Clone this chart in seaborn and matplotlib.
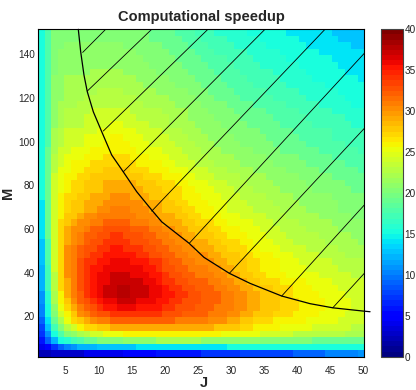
import matplotlib
matplotlib.use("Agg")
import matplotlib.pyplot as plt
import pandas as pd
import seaborn as sns

# ---- data ----
J_VALUES = list(range(1, 51))
M_VALUES = list(range(3, 151, 3))

# speedup per cell, one string per M (first string is M=3, last is M=150), J = 1..50
SPEEDUP_ROWS = [
    "2 2 3 3 3 3 3 4 4 4  4 4 4 5 5 5 5 5 6 6  6 6 6 6 6 7 7 7 7 7  7 8 8 8 8 8 8 8 8 9  9 9 9 9 10 10 10 10 10 11",
    "4 5 7 9 10 11 12 12 12 13  13 13 13 13 13 14 14 14 14 14  14 14 14 14 14 14 14 14 14 15  15 15 15 15 15 15 15 15 15 15  15 15 15 15 15 15 15 15 15 15",
    "6 9 12 15 16 17 18 19 19 20  20 20 20 21 21 21 21 21 22 22  22 22 22 22 22 21 21 21 21 21  21 21 21 21 20 20 20 20 20 20  20 20 19 19 19 19 19 19 19 19",
    "7 11 15 18 20 21 22 23 24 24  25 25 25 26 26 26 26 26 26 26  26 26 26 26 26 26 26 26 25 25  25 25 25 25 24 24 24 24 24 23  23 23 23 23 23 23 23 22 22 22",
    "8 13 17 20 23 24 26 27 27 28  28 29 29 29 29 29 29 29 29 29  29 29 29 29 29 29 29 28 28 28  28 27 27 26 26 26 26 25 25 25  25 25 24 24 24 24 24 24 23 23",
    "9 14 19 22 25 27 28 29 30 31  31 32 32 32 32 32 32 32 32 32  32 31 31 31 31 31 30 30 30 29  29 28 28 27 27 27 26 26 26 26  26 25 25 25 25 25 24 24 24 24",
    "10 15 20 24 26 28 30 31 32 33  33 34 34 34 34 34 34 34 34 33  33 33 32 32 32 32 31 31 31 30  30 29 29 28 28 28 27 27 27 26  26 26 26 25 25 25 25 24 24 24",
    "10 15 21 25 27 29 31 32 33 34  35 35 36 36 36 35 35 35 35 34  34 33 33 33 32 32 32 31 31 31  30 30 29 29 28 28 28 27 27 27  26 26 26 26 25 25 25 25 24 24",
    "11 16 22 26 28 30 32 33 34 35  36 36 37 37 37 36 36 36 35 35  34 34 33 33 33 32 32 32 31 31  30 30 29 29 28 28 28 27 27 27  26 26 26 26 25 25 25 25 24 24",
    "11 16 22 26 29 31 32 34 35 36  37 37 38 38 37 37 37 36 36 35  35 34 34 33 33 32 32 32 31 31  30 30 29 29 28 28 28 27 27 26  26 26 26 25 25 25 25 24 24 24",
    "12 17 23 27 29 31 33 34 35 36  37 37 38 38 37 37 37 36 36 35  34 34 33 33 32 32 32 31 31 30  30 29 29 28 28 28 27 27 27 26  26 26 25 25 25 25 24 24 24 24",
    "12 17 23 27 29 31 33 34 35 36  36 37 37 37 37 37 36 36 35 34  34 33 33 32 32 32 31 31 30 30  29 29 28 28 27 27 27 26 26 26  26 25 25 25 25 24 24 24 24 24",
    "12 17 23 27 30 31 33 34 35 36  36 37 37 37 36 36 36 35 35 34  33 33 32 32 31 31 31 30 30 29  29 28 28 27 27 26 26 26 25 25  25 25 25 24 24 24 24 24 23 23",
    "12 17 24 27 30 31 33 34 35 35  36 36 36 36 36 36 35 35 34 33  33 32 32 31 31 31 30 30 29 29  28 28 27 27 26 26 26 25 25 25  25 24 24 24 24 24 23 23 23 23",
    "13 18 24 27 30 31 33 34 34 35  35 36 36 36 35 35 35 34 34 33  32 32 31 31 30 30 30 29 29 28  28 28 27 27 26 26 26 25 25 25  24 24 24 24 24 23 23 23 23 23",
    "13 18 24 27 30 31 32 33 34 34  35 35 35 35 35 34 34 33 33 32  32 31 31 30 30 30 29 29 28 28  28 27 27 26 26 26 25 25 25 24  24 24 24 23 23 23 23 22 22 22",
    "13 18 24 27 30 31 32 33 33 34  34 35 35 34 34 34 33 33 32 32  31 31 30 30 29 29 29 28 28 27  27 27 26 26 25 25 25 24 24 24  24 23 23 23 23 23 22 22 22 22",
    "13 18 24 27 29 30 31 32 33 33  34 34 34 34 33 33 33 32 32 31  31 30 30 29 29 29 28 28 27 27  27 26 26 25 25 25 24 24 24 23  23 23 23 23 22 22 22 22 22 21",
    "14 19 24 27 29 30 31 32 32 33  33 34 34 33 33 33 32 32 31 31  30 30 29 29 28 28 28 27 27 26  26 26 25 25 25 24 24 24 23 23  23 23 23 22 22 22 22 22 21 21",
    "14 19 24 27 29 30 30 31 32 32  33 33 33 33 32 32 32 31 31 30  30 29 29 28 28 28 27 27 26 26  26 25 25 25 24 24 24 23 23 23  23 22 22 22 22 22 21 21 21 21",
    "14 19 24 27 28 29 30 30 31 31  32 32 32 32 31 31 31 30 30 29  29 29 28 28 27 27 27 26 26 25  25 25 25 24 24 24 23 23 23 23  22 22 22 22 22 21 21 21 21 21",
    "14 19 24 26 28 28 29 30 30 31  31 31 31 31 31 30 30 30 29 29  29 28 28 27 27 26 26 26 25 25  25 24 24 24 24 23 23 23 22 22  22 22 22 21 21 21 21 21 20 20",
    "14 19 24 26 27 28 28 29 29 30  30 31 31 31 30 30 30 29 29 28  28 28 27 27 26 26 26 25 25 24  24 24 24 23 23 23 23 22 22 22  22 21 21 21 21 21 20 20 20 20",
    "14 19 24 26 27 28 28 29 29 29  30 30 30 30 30 30 29 29 29 28  28 27 27 26 26 26 25 25 25 24  24 24 23 23 23 23 22 22 22 22  21 21 21 21 21 21 20 20 20 20",
    "15 19 24 26 27 27 28 28 29 29  29 30 30 30 29 29 29 28 28 28  27 27 26 26 26 25 25 25 24 24  24 23 23 23 23 22 22 22 22 21  21 21 21 21 21 20 20 20 20 20",
    "15 19 24 25 26 27 27 28 28 28  29 29 29 29 29 29 28 28 28 27  27 27 26 26 25 25 25 24 24 24  23 23 23 22 22 22 22 21 21 21  21 21 20 20 20 20 20 20 19 19",
    "15 19 24 25 26 27 27 28 28 28  29 29 29 29 29 28 28 28 27 27  27 26 26 25 25 25 24 24 24 23  23 23 22 22 22 22 21 21 21 21  21 20 20 20 20 20 20 19 19 19",
    "15 19 24 25 26 26 27 27 28 28  28 28 28 28 28 28 27 27 27 26  26 26 25 25 24 24 24 23 23 23  23 22 22 22 22 21 21 21 21 21  20 20 20 20 20 19 19 19 19 19",
    "15 19 23 25 25 26 26 27 27 27  28 28 28 28 27 27 27 26 26 26  25 25 25 24 24 24 23 23 23 22  22 22 22 21 21 21 21 21 20 20  20 20 20 19 19 19 19 19 19 18",
    "15 19 23 24 25 26 26 26 27 27  27 27 27 27 27 26 26 26 26 25  25 24 24 24 23 23 23 22 22 22  22 21 21 21 21 21 20 20 20 20  20 19 19 19 19 19 19 18 18 18",
    "15 19 23 24 25 25 25 26 26 26  27 27 27 27 26 26 26 25 25 25  24 24 24 23 23 23 22 22 22 22  21 21 21 21 21 20 20 20 20 20  19 19 19 19 19 18 18 18 18 18",
    "15 19 22 24 24 25 25 25 26 26  26 26 26 26 26 25 25 25 25 24  24 24 23 23 23 22 22 22 21 21  21 21 21 20 20 20 20 19 19 19  19 19 19 18 18 18 18 18 18 17",
    "15 18 22 23 24 24 24 25 25 25  26 26 26 26 25 25 25 24 24 24  24 23 23 23 22 22 22 21 21 21  21 20 20 20 20 20 19 19 19 19  19 18 18 18 18 18 18 17 17 17",
    "15 18 22 23 24 24 24 25 25 25  25 26 26 25 25 25 24 24 24 24  23 23 23 22 22 22 21 21 21 21  20 20 20 20 20 19 19 19 19 19  18 18 18 18 18 17 17 17 17 17",
    "15 18 22 23 24 24 24 24 24 25  25 25 25 25 25 24 24 24 24 23  23 23 22 22 22 21 21 21 21 20  20 20 20 20 19 19 19 19 19 18  18 18 18 18 18 17 17 17 17 17",
    "15 18 21 22 23 23 23 24 24 24  24 25 25 24 24 24 24 23 23 23  22 22 22 22 21 21 21 21 20 20  20 20 19 19 19 19 19 18 18 18  18 18 17 17 17 17 17 17 16 16",
    "15 18 21 22 23 23 23 24 24 24  24 24 24 24 24 23 23 23 23 23  22 22 22 21 21 21 21 20 20 20  20 19 19 19 19 19 18 18 18 18  18 17 17 17 17 17 17 16 16 16",
    "15 18 21 22 23 23 23 23 24 24  24 24 24 24 23 23 23 23 23 22  22 22 22 21 21 21 20 20 20 20  19 19 19 19 19 18 18 18 18 18  17 17 17 17 17 16 16 16 16 16",
    "15 18 21 22 22 22 23 23 23 23  23 23 23 23 23 23 22 22 22 22  22 21 21 21 21 20 20 20 20 19  19 19 19 18 18 18 18 18 17 17  17 17 17 16 16 16 16 16 15 15",
    "15 18 21 21 22 22 22 23 23 23  23 23 23 23 23 22 22 22 22 22  21 21 21 21 20 20 20 19 19 19  19 18 18 18 18 18 17 17 17 17  17 16 16 16 16 16 16 15 15 15",
    "15 18 21 21 22 22 22 22 22 23  23 23 23 22 22 22 22 22 21 21  21 21 21 20 20 20 19 19 19 19  18 18 18 18 18 17 17 17 17 17  16 16 16 16 16 16 15 15 15 15",
    "15 18 21 21 22 22 22 22 22 22  22 22 22 22 22 22 21 21 21 21  21 20 20 20 20 19 19 19 19 18  18 18 18 17 17 17 17 17 16 16  16 16 16 16 15 15 15 15 15 15",
    "15 18 21 21 22 22 22 22 22 22  22 22 22 22 22 21 21 21 21 21  20 20 20 20 19 19 19 19 18 18  18 18 17 17 17 17 17 16 16 16  16 16 15 15 15 15 15 15 15 14",
    "15 18 20 21 21 21 21 21 22 22  22 22 22 21 21 21 21 21 20 20  20 20 20 19 19 19 19 18 18 18  18 17 17 17 17 17 16 16 16 16  16 15 15 15 15 15 15 14 14 14",
    "15 18 20 21 21 21 21 21 21 21  21 21 21 21 21 21 21 20 20 20  20 20 19 19 19 19 18 18 18 18  17 17 17 17 16 16 16 16 16 16  15 15 15 15 15 15 14 14 14 14",
    "15 18 20 21 21 21 21 21 21 21  21 21 21 21 21 21 20 20 20 20  20 19 19 19 19 18 18 18 18 17  17 17 17 16 16 16 16 16 15 15  15 15 15 15 15 14 14 14 14 14",
    "15 18 20 21 21 21 21 21 21 21  21 21 21 21 21 20 20 20 20 20  19 19 19 19 18 18 18 17 17 17  17 17 16 16 16 16 16 15 15 15  15 15 15 14 14 14 14 14 14 14",
    "15 18 20 20 21 21 21 21 21 21  21 21 21 20 20 20 20 20 20 19  19 19 19 18 18 18 17 17 17 17  16 16 16 16 16 15 15 15 15 15  15 14 14 14 14 14 14 14 13 13",
    "15 18 20 20 20 20 20 20 20 20  20 20 20 20 20 20 20 19 19 19  19 19 18 18 18 17 17 17 17 16  16 16 16 16 15 15 15 15 15 15  14 14 14 14 14 14 13 13 13 13",
    "15 18 20 20 20 20 20 20 20 20  20 20 20 20 20 20 20 19 19 19  19 18 18 18 17 17 17 16 16 16  16 16 15 15 15 15 15 15 14 14  14 14 14 14 14 13 13 13 13 13",
]

# boundary curve (J, M)
CURVE_J = [6.90, 7.26, 7.76, 8.26, 9.17, 10.44, 11.95, 13.70, 15.73, 18.00,
           19.51, 23.64, 25.91, 29.74, 32.87, 37.66, 41.94, 45.38, 50.00, 51.02]
CURVE_M = [151.5, 141.2, 130.5, 122.9, 113.7, 104.6, 93.9, 86.2, 77.1, 68.7,
           63.3, 53.5, 47.0, 39.7, 35.1, 29.3, 25.8, 23.9, 22.4, 22.1]

# hatch segments above the curve: start on the curve, end on the frame
HATCH_J0 = [7.56, 8.26, 10.68, 13.70, 18.00, 23.69, 29.74, 37.66, 45.38]
HATCH_M0 = [140.9, 123.2, 104.9, 86.2, 68.2, 53.5, 39.7, 29.3, 23.9]
HATCH_J1 = [11.04, 18.00, 26.50, 35.13, 44.21, 50.15, 50.15, 50.15, 50.15]
HATCH_M1 = [151.5, 151.5, 151.5, 151.5, 151.5, 140.5, 106.1, 71.0, 39.7]

X_TICKS = [5, 10, 15, 20, 25, 30, 35, 40, 45, 50]
Y_TICKS = [20, 40, 60, 80, 100, 120, 140]
CBAR_TICKS = [0, 5, 10, 15, 20, 25, 30, 35, 40]

sns.set_style("white")
plt.rcParams["font.family"] = ["Liberation Sans", "DejaVu Sans"]

speedup = pd.DataFrame([[int(v) for v in row.split()] for row in SPEEDUP_ROWS],
                       index=M_VALUES, columns=J_VALUES)

W, H = 416, 390
fig = plt.figure(figsize=(W / 100, H / 100), dpi=100)
rect = [38.3 / W, (H - 356.7) / H, 326 / W, 327.4 / H]
ax = fig.add_axes(rect)
cax = fig.add_axes([380.7 / W, (H - 356.7) / H, 22.6 / W, 327.4 / H])

jet = plt.get_cmap("jet", 64)
sns.heatmap(speedup.iloc[::-1], ax=ax, cmap=jet, vmin=0, vmax=40,
            cbar_ax=cax, cbar_kws={"ticks": CBAR_TICKS},
            xticklabels=False, yticklabels=False, linewidths=0)
ax.set_xlabel("")
ax.set_ylabel("")

# overlay in J / M units for the curve, hatching and ticks
ov = fig.add_axes(rect, facecolor="none")
ov.set_xlim(0.85, 50.15)
ov.set_ylim(1.5, 151.5)
ov.plot(CURVE_J, CURVE_M, color="black", lw=0.9, clip_on=False)
for j0, m0, j1, m1 in zip(HATCH_J0, HATCH_M0, HATCH_J1, HATCH_M1):
    ov.plot([j0, j1], [m0, m1], color="black", lw=0.6)

ov.set_xticks(X_TICKS)
ov.set_yticks(Y_TICKS)
ov.tick_params(axis="x", length=0, labelsize=7.2, pad=6.7)
ov.tick_params(axis="y", length=0, labelsize=7.2, pad=2.4)
for sp in ov.spines.values():
    sp.set_visible(True)
    sp.set_color("black")
    sp.set_linewidth(0.8)

ov.set_title("Computational speedup", fontsize=10.5, fontweight="bold", pad=6.2)
ov.set_xlabel("J", fontsize=10.5, fontweight="bold")
ov.xaxis.set_label_coords(0.508, -0.058)
ov.set_ylabel("M", fontsize=10.5, fontweight="bold")
ov.yaxis.set_label_coords(-0.07, 0.5)

cbar = ax.collections[0].colorbar
cbar.outline.set_edgecolor("#444444")
cbar.outline.set_linewidth(0.8)
cax.tick_params(axis="y", which="both", direction="in", left=True, right=True,
                length=2.4, width=0.6, labelsize=7.2, pad=1, colors="#222222")

fig.savefig("out.png", dpi=100)
